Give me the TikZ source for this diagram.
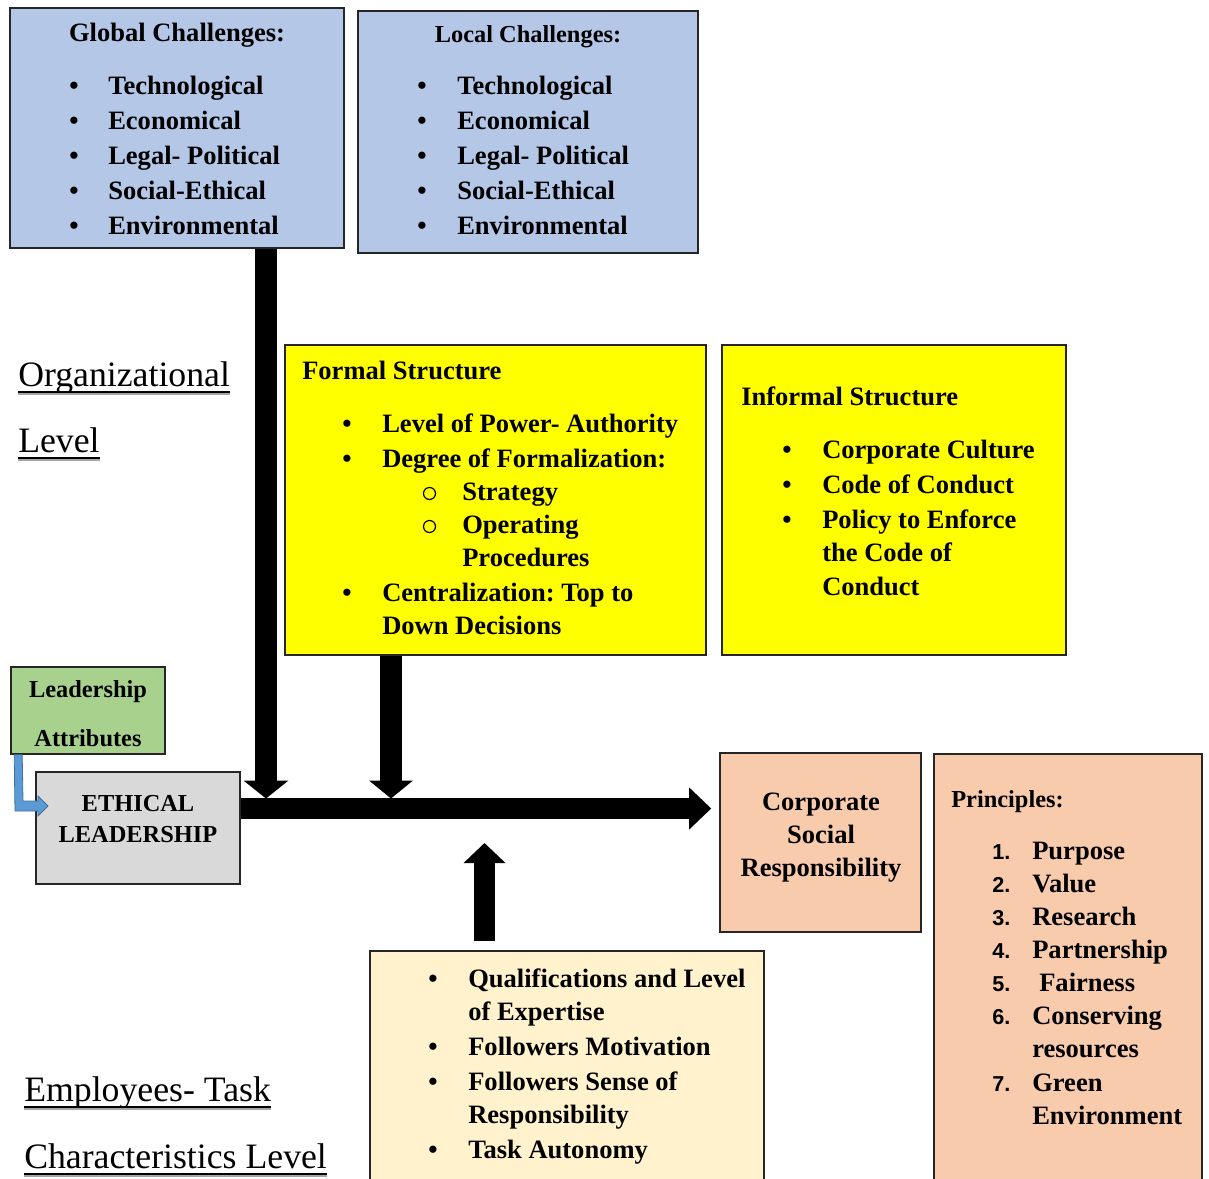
\documentclass[tikz,border=0pt]{standalone}
\usepackage{fontspec}
\setmainfont{Liberation Serif}
\newfontfamily\numfont{Liberation Sans}
\usetikzlibrary{arrows.meta,fit,calc}
\frenchspacing

\definecolor{chalblue}{HTML}{B4C7E7}
\definecolor{structyellow}{HTML}{FFFF00}
\definecolor{leadgreen}{HTML}{A9D18E}
\definecolor{ethgray}{HTML}{D9D9D9}
\definecolor{csrpeach}{HTML}{F8CBAD}
\definecolor{taskcream}{HTML}{FFF2CC}
\definecolor{linkblue}{HTML}{5B9BD5}
\definecolor{linkblueedge}{HTML}{41719C}

\newcommand\bodyfont{\fontsize{19.9pt}{26pt}\selectfont\bfseries\frenchspacing}
\newcommand\headfont{\fontsize{18.3pt}{24pt}\selectfont\bfseries\frenchspacing}
\newcommand\levelfont{\fontsize{26.8pt}{32pt}\selectfont}
\newcommand\numberfont{\fontsize{16.2pt}{20pt}\selectfont\numfont\bfseries}

\begin{document}
\begin{tikzpicture}[x=0.75pt,y=-0.75pt,
  box/.style={draw=black!85, line width=1.2pt, inner sep=0pt, rectangle},
  item/.style={anchor=base west, inner sep=0pt, font=\bodyfont},
  centred/.style={anchor=base, inner sep=0pt, font=\bodyfont},
  dot/.style={anchor=base, inner sep=0pt, font=\bodyfont},
  ring/.style={circle, draw=black, line width=0.9pt, minimum size=9pt, inner sep=0pt},
  numlabel/.style={anchor=base west, inner sep=0pt, font=\numberfont},
  levellabel/.style={anchor=base west, inner sep=0pt, font=\levelfont},
  bigarrow/.style={line width=16pt, draw=black},
]
\useasboundingbox (0,0) rectangle (1209,1178);

% ---------- boxes ----------
\node[box, fill=chalblue, fit={(10,8) (344,248)}] (global) {};
\node[box, fill=chalblue, fit={(358,11) (698,253)}] (local) {};
\node[box, fill=structyellow, fit={(285,345) (706,655)}] (formal) {};
\node[box, fill=structyellow, fit={(722,345) (1066,655)}] (informal) {};
\node[box, fill=leadgreen, fit={(11,667) (165,754)}] (attr) {};
\node[box, fill=ethgray, fit={(36,772) (240,884)}] (eth) {};
\node[box, fill=csrpeach, fit={(720,753) (921,932)}] (csr) {};
\node[box, fill=csrpeach, fit={(934,754) (1202,1190)}] (principles) {};
\node[box, fill=taskcream, fit={(370,951) (764,1190)}] (task) {};

% ---------- challenges ----------
\node[centred] (globalhead) at (177,41) {Global Challenges:};
\node[centred, font=\headfont] (localhead) at (528,42) {Local Challenges:};
\foreach \n/\y/\t in {1/94/Technological,2/129/Economical,3/164/Legal- Political,4/199/Social-Ethical,5/234/Environmental}{
  \node[dot] (gdot\n) at (74,\y) {\textbullet};
  \node[item] (gitem\n) at (108,\y) {\t};
  \node[dot] (ldot\n) at (422,\y) {\textbullet};
  \node[item] (litem\n) at (457,\y) {\t};
}

% ---------- formal structure ----------
\node[item] (formalhead) at (302,379) {Formal Structure};
\node[dot] (fdot1) at (347,432) {\textbullet};
\node[item] (fitem1) at (382,432) {Level of Power- Authority};
\node[dot] (fdot2) at (347,467) {\textbullet};
\node[item] (fitem2) at (382,467) {Degree of Formalization:};
\node[ring] (fring1) at (429.5,493.5) {};
\node[item] (fsub1) at (462,500) {Strategy};
\node[ring] (fring2) at (429.5,526.5) {};
\node[item] (fsub2) at (462,533) {Operating};
\node[item] (fsub3) at (462,566) {Procedures};
\node[dot] (fdot3) at (347,601) {\textbullet};
\node[item] (fitem3) at (382,601) {Centralization: Top to};
\node[item] (fitem4) at (382,634) {Down Decisions};

% ---------- informal structure ----------
\node[item] (informalhead) at (741,405) {Informal Structure};
\node[dot] (idot1) at (787,458) {\textbullet};
\node[item] (iitem1) at (822,458) {Corporate Culture};
\node[dot] (idot2) at (787,493) {\textbullet};
\node[item] (iitem2) at (822,493) {Code of Conduct};
\node[dot] (idot3) at (787,528) {\textbullet};
\node[item] (iitem3) at (822,528) {Policy to Enforce};
\node[item] (iitem4) at (822,561) {the Code of};
\node[item] (iitem5) at (822,595) {Conduct};

% ---------- leadership ----------
\node[centred, font=\headfont] (attr1) at (88,697) {Leadership};
\node[centred, font=\headfont] (attr2) at (88,746) {Attributes};
\node[centred, font=\headfont] (eth1) at (138,811) {ETHICAL};
\node[centred, font=\headfont] (eth2) at (138,842) {LEADERSHIP};

% ---------- corporate social responsibility ----------
\node[centred] (csr1) at (821,810) {Corporate};
\node[centred] (csr2) at (821,843) {Social};
\node[centred] (csr3) at (821,876) {Responsibility};

% ---------- principles ----------
\node[item, font=\headfont] (prhead) at (951,807) {Principles:};
\foreach \n/\y/\t in {1/859/Purpose,2/892/Value,3/925/Research,4/958/Partnership,6/1024/Conserving,7/1091/Green}{
  \node[numlabel] (pnum\n) at (992,\y) {\n.};
  \node[item] (pitem\n) at (1032,\y) {\t};
}
\node[numlabel] (pnum5) at (992,991) {5.};
\node[item] (pitem5) at (1039,991) {Fairness};
\node[item] (pitem6b) at (1032,1057) {resources};
\node[item] (pitem7b) at (1032,1124) {Environment};

% ---------- employee / task characteristics ----------
\node[dot] (tdot1) at (433,987) {\textbullet};
\node[item] (titem1) at (468,987) {Qualifications and Level};
\node[item] (titem1b) at (468,1020) {of Expertise};
\node[dot] (tdot2) at (433,1055) {\textbullet};
\node[item] (titem2) at (468,1055) {Followers Motivation};
\node[dot] (tdot3) at (433,1090) {\textbullet};
\node[item] (titem3) at (468,1090) {Followers Sense of};
\node[item] (titem3b) at (468,1123) {Responsibility};
\node[dot] (tdot4) at (433,1158) {\textbullet};
\node[item] (titem4) at (468,1158) {Task Autonomy};

% ---------- level labels (underlined) ----------
\foreach \name/\x/\y/\t in {org1/18/386/Organizational,org2/18/452/Level,emp1/24/1101/Employees- Task,emp2/24/1168/Characteristics Level}{
  \node[levellabel] (\name) at (\x,\y) {\t};
  \draw[black!35, line width=1.2pt] ([yshift=-6.2pt]\name.base west) -- ([yshift=-6.2pt]\name.base east);
  \draw[black, line width=1.3pt] ([yshift=-4.4pt]\name.base west) -- ([yshift=-4.4pt]\name.base east);
}

% ---------- connectors ----------
\coordinate (hub) at (0,808.5);
\coordinate (globaldrop) at (266,0);
\coordinate (formaldrop) at (391,0);
\coordinate (taskrise) at (484.5,0);

\draw[bigarrow, -{Triangle[width=33.75pt,length=13.5pt,line width=0pt]}, shorten >=7.5pt]
  (globaldrop |- global.south) -- (globaldrop |- hub);
\draw[bigarrow, -{Triangle[width=33pt,length=13.5pt,line width=0pt]}, shorten >=7.5pt]
  (formaldrop |- formal.south) -- (formaldrop |- hub);
\draw[line width=15.75pt, -{Triangle[width=31.5pt,length=16.5pt,line width=0pt]}, shorten >=6pt]
  (eth.east |- hub) -- (csr.west |- hub);
\draw[line width=15.75pt, -{Triangle[width=31.5pt,length=15pt,line width=0pt]}, shorten <=6.75pt, shorten >=25.9pt]
  (taskrise |- task.north) -- (taskrise |- hub);

% leadership attributes feed into ethical leadership
\draw[fill=linkblue, draw=linkblueedge, line width=0.6pt]
  ($(attr.south west)+(4,0)$) -- ++(8,0) -- (23,801) -- (38,801) -- (38,796)
  -- (48,806) -- (38,816) -- (38,811) -- (15,811) -- cycle;
\end{tikzpicture}
\end{document}
